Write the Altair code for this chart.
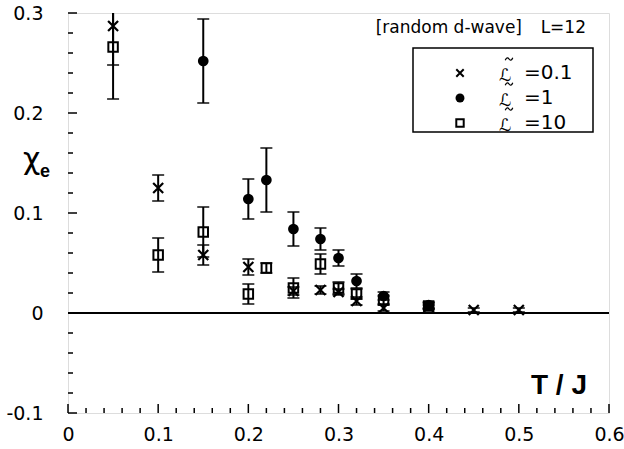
import altair as alt
import pandas as pd

# chi_e versus T/J for three values of the coupling, with symmetric error bars
T_a = [0.05, 0.1, 0.15, 0.2, 0.25, 0.28, 0.3, 0.32, 0.35, 0.4, 0.45, 0.5]
chi_a = [0.287, 0.125, 0.058, 0.046, 0.022, 0.023, 0.021, 0.012, 0.005, 0.006, 0.003, 0.003]
err_a = [0.039, 0.013, 0.010, 0.008, 0.004, 0.004, 0.003, 0.004, 0.003, 0.002, 0.002, 0.002]

T_b = [0.15, 0.2, 0.22, 0.25, 0.28, 0.3, 0.32, 0.35, 0.4]
chi_b = [0.252, 0.114, 0.133, 0.084, 0.074, 0.055, 0.032, 0.017, 0.008]
err_b = [0.042, 0.020, 0.032, 0.017, 0.011, 0.008, 0.007, 0.004, 0.003]

T_c = [0.05, 0.1, 0.15, 0.2, 0.22, 0.25, 0.28, 0.3, 0.32, 0.35, 0.4]
chi_c = [0.266, 0.058, 0.081, 0.019, 0.045, 0.025, 0.049, 0.025, 0.019, 0.013, 0.007]
err_c = [0.052, 0.017, 0.025, 0.010, 0.005, 0.010, 0.010, 0.006, 0.005, 0.004, 0.003]

series_names = ["0.1", "1", "10"]
x_tick_labels = [0, 0.1, 0.2, 0.3, 0.4, 0.5, 0.6]
y_tick_labels = [-0.1, 0, 0.1, 0.2, 0.3]

FONT = "Liberation Sans"
WIDE = "DejaVu Sans"
CROSS = "M-1,-1L1,1M-1,1L1,-1"
TILDE = "M-1,0.35C-0.7,-0.45,-0.3,-0.45,0,0C0.3,0.45,0.7,0.45,1,-0.35"
W, H = 541, 400

rows = []
for name, T, chi, err in zip(series_names, [T_a, T_b, T_c], [chi_a, chi_b, chi_c], [err_a, err_b, err_c]):
    for t, c, e in zip(T, chi, err):
        rows.append({"series": name, "T": t, "chi": c, "lo": c - e, "hi": c + e})
df = pd.DataFrame(rows)

xs = alt.Scale(domain=[0, 0.6], nice=False, zero=False)
ys = alt.Scale(domain=[-0.1, 0.3], nice=False, zero=False)

x_axis = alt.Axis(values=x_tick_labels, labelExpr="datum.value == 0 ? '0' : format(datum.value, '.1f')",
                  labelPadding=12, labelFlush=False, labelOverlap=False, domain=False, ticks=False, grid=False,
                  labelFont=WIDE, labelFontSize=19, labelColor="black")
y_axis = alt.Axis(values=y_tick_labels,
                  labelExpr="abs(datum.value) < 1e-9 ? '0' : (datum.value < 0 ? '-' + format(-datum.value, '.1f') : format(datum.value, '.1f'))",
                  labelPadding=25, labelFlush=False, labelOverlap=False, domain=False, ticks=False, grid=False,
                  labelFont=WIDE, labelFontSize=19, labelColor="black")


def X(field):
    return alt.X(field, type="quantitative", scale=xs, axis=x_axis, title=None)


def Y(field):
    return alt.Y(field, type="quantitative", scale=ys, axis=y_axis, title=None)


base = alt.Chart(df)

# minor/major ticks pointing into the plot
tick_pos = [round(i * 0.02, 2) for i in range(31)]
yt_pos = [round(-0.1 + i * 0.02, 2) for i in range(21)]
xt_df = pd.DataFrame({"v": tick_pos, "major": [abs(v * 10 - round(v * 10)) < 1e-6 for v in tick_pos]})
yt_df = pd.DataFrame({"v": yt_pos, "major": [abs(v * 10 - round(v * 10)) < 1e-6 for v in yt_pos]})

x_ticks_major = alt.Chart(xt_df).transform_filter("datum.major").mark_rule(color="black", strokeWidth=1.5).encode(
    x=X("v"), y=alt.value(H), y2=alt.value(H - 9))
x_ticks_minor = alt.Chart(xt_df).transform_filter("!datum.major").mark_rule(color="black", strokeWidth=1.5).encode(
    x=X("v"), y=alt.value(H), y2=alt.value(H - 5))
y_ticks_major = alt.Chart(yt_df).transform_filter("datum.major").mark_rule(color="black", strokeWidth=1.5).encode(
    y=Y("v"), x=alt.value(0), x2=alt.value(9))
y_ticks_minor = alt.Chart(yt_df).transform_filter("!datum.major").mark_rule(color="black", strokeWidth=1.5).encode(
    y=Y("v"), x=alt.value(0), x2=alt.value(5))

zero_line = alt.Chart(pd.DataFrame({"z": [0.0]})).mark_rule(color="black", strokeWidth=2).encode(
    y=Y("z"), x=alt.value(0), x2=alt.value(W))

bars = base.mark_rule(color="black", strokeWidth=2, clip=True).encode(x=X("T"), y=Y("lo"), y2="hi")
cap_lo = base.mark_tick(color="black", thickness=2, size=12, orient="horizontal", clip=True).encode(x=X("T"), y=Y("lo"))
cap_hi = base.mark_tick(color="black", thickness=2, size=12, orient="horizontal", clip=True).encode(x=X("T"), y=Y("hi"))

crosses = base.transform_filter(alt.datum.series == "0.1").mark_point(
    shape=CROSS, size=100, strokeWidth=2.2, color="black", filled=False, opacity=1, clip=True).encode(x=X("T"), y=Y("chi"))
circles = base.transform_filter(alt.datum.series == "1").mark_point(
    shape="circle", size=115, color="black", filled=True, opacity=1, clip=True).encode(x=X("T"), y=Y("chi"))
squares = base.transform_filter(alt.datum.series == "10").mark_point(
    shape="square", size=90, strokeWidth=2, color="black", filled=False, opacity=1, clip=True).encode(x=X("T"), y=Y("chi"))

one = pd.DataFrame({"k": [0]})


def label(text, x, y, size, weight="normal", align="left", baseline="middle", font=FONT):
    return alt.Chart(one).mark_text(text=text, fontSize=size, fontWeight=weight, font=font, align=align,
                                    baseline=baseline, color="black").encode(x=alt.value(x), y=alt.value(y))


annotations = [
    label("\u03c7", -45, 147, 30, font=WIDE),
    label("e", -28, 159, 18, weight="bold"),
    label("T / J", 519, 373, 28, weight="bold", align="right"),
    label("[random d-wave]", 454, 15, 17, align="right", font=WIDE),
    label("L=12", 518, 15, 17, align="right", font=WIDE),
]

# legend box with its three entries
legend_box = alt.Chart(one).mark_rect(fill="white", stroke="black", strokeWidth=1.5).encode(
    x=alt.value(345), x2=alt.value(525), y=alt.value(35), y2=alt.value(119))
legend_layers = [legend_box]
legend_marks = [
    dict(shape=CROSS, size=55, filled=False, strokeWidth=2),
    dict(shape="circle", size=80, filled=True, strokeWidth=1),
    dict(shape="square", size=55, filled=False, strokeWidth=2),
]
for i, (name, m) in enumerate(zip(series_names, legend_marks)):
    yy = 60 + 25 * i
    legend_layers.append(alt.Chart(one).mark_point(color="black", opacity=1, **m).encode(
        x=alt.value(392), y=alt.value(yy)))
    legend_layers.append(label("\u2112", 431, yy + 3, 17, font=WIDE))
    # tilde accent over the script L
    legend_layers.append(alt.Chart(one).mark_point(shape=TILDE, size=56, filled=False, color="black",
                                                   strokeWidth=1.3, opacity=1).encode(
        x=alt.value(441), y=alt.value(yy - 14)))
    legend_layers.append(label("=" + name, 456, yy, 20, font=WIDE))

chart = alt.layer(
    zero_line, x_ticks_major, x_ticks_minor, y_ticks_major, y_ticks_minor,
    bars, cap_lo, cap_hi, crosses, circles, squares,
    *annotations, *legend_layers,
).properties(
    width=W, height=H,
    autosize=alt.AutoSizeParams(type="none"),
    padding={"left": 68, "top": 13, "right": 15, "bottom": 36},
).configure_view(
    stroke="black", strokeWidth=2
).configure(background="white")

chart.save("out.html", embed_options={"renderer": "svg", "actions": False})
